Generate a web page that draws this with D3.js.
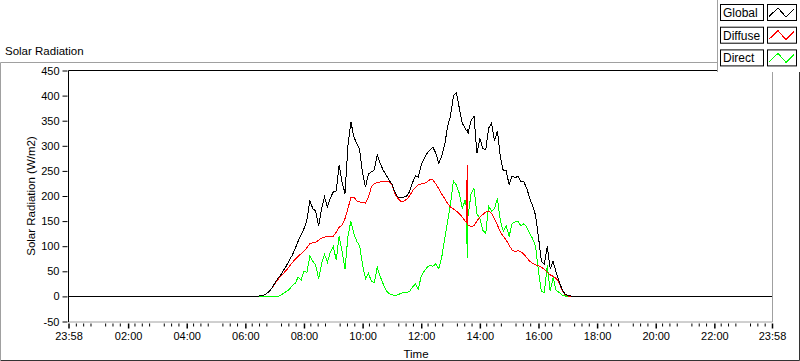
<!DOCTYPE html>
<html>
<head>
<meta charset="utf-8">
<script src="https://cdnjs.cloudflare.com/ajax/libs/d3/7.8.5/d3.min.js"></script>
<style>
  body { margin: 0; background: #fff; }
  svg { display: block; font-family: "Liberation Sans", Arial, sans-serif; }
</style>
</head>
<body>
<main></main>
<script>
// sample times (local time of day)
const times = [
  "06:00","06:06","06:12","06:18","06:24","06:30","06:36","06:42","06:48","06:54",
  "07:00","07:06","07:12","07:18","07:24","07:30","07:36","07:42","07:48","07:54",
  "08:00","08:06","08:12","08:18","08:24","08:30","08:36","08:42","08:48","08:54",
  "09:00","09:06","09:12","09:18","09:24","09:30","09:36","09:42","09:48","09:54",
  "10:00","10:06","10:12","10:18","10:24","10:30","10:36","10:42","10:48","10:54",
  "11:00","11:06","11:12","11:18","11:24","11:30","11:36","11:42","11:48","11:54",
  "12:00","12:06","12:12","12:18","12:24","12:30","12:36","12:42","12:48","12:54",
  "13:00","13:06","13:12","13:18","13:24","13:30","13:33","13:34","13:35","13:36",
  "13:42","13:48","13:54","14:00","14:06","14:12","14:18","14:24","14:30","14:36",
  "14:42","14:48","14:54","15:00","15:06","15:12","15:18","15:24","15:30","15:36",
  "15:42","15:48","15:54","16:00","16:06","16:12","16:18","16:24","16:30","16:36",
  "16:42","16:48","16:54","17:00","17:06","17:12","17:18","17:24"
];

const globalRad = [
  0, 0, 0, 0, 0, 1, 2, 5, 9, 16,
  26, 35, 42, 52, 61, 72, 82, 95, 110, 122,
  135, 152, 190, 175, 170, 140, 175, 198, 178, 196,
  208, 210, 262, 228, 205, 300, 348, 318, 305, 292,
  245, 218, 244, 248, 252, 282, 265, 252, 242, 232,
  224, 208, 198, 196, 198, 200, 208, 226, 240, 238,
  262, 274, 285, 292, 297, 285, 265, 280, 302, 338,
  360, 400, 405, 375, 345, 335, 330, 332, 328, 325,
  350, 359, 285, 315, 295, 292, 335, 345, 310, 330,
  278, 250, 250, 222, 240, 236, 240, 228, 228, 215,
  196, 180, 162, 118, 70, 64, 100, 55, 70, 48,
  30, 15, 5, 2, 1, 0, 0, 0
];

const diffuseRad = [
  0, 0, 0, 0, 0, 1, 2, 5, 9, 16,
  25, 33, 40, 46, 52, 60, 67, 74, 80, 85,
  90, 97, 105, 107, 108, 112, 116, 118, 119, 120,
  120, 128, 138, 142, 155, 175, 197, 198, 190, 188,
  187, 186, 198, 218, 225, 227, 228, 229, 230, 228,
  222, 205, 195, 190, 190, 193, 200, 210, 217, 222,
  224, 225, 228, 233, 232, 224, 214, 204, 195, 185,
  178, 174, 170, 165, 158, 150, 147, 262, 146, 142,
  139, 141, 150, 158, 163, 168, 170, 165, 155, 142,
  128, 120, 112, 102, 92, 89, 91, 89, 84, 77,
  70, 66, 63, 61, 58, 54, 48, 43, 40, 36,
  28, 13, 4, 1, 0, 0, 0, 0
];

const directRad = [
  0, 0, 0, 0, 0, 0, 0, 0, 0, 0,
  0, 0, 2, 6, 10, 14, 22, 26, 38, 32,
  50, 48, 80, 70, 62, 35, 65, 84, 68, 88,
  100, 72, 120, 90, 55, 120, 150, 125, 110, 100,
  62, 35, 46, 30, 28, 58, 40, 25, 12, 6,
  3, 2, 3, 6, 8, 8, 10, 18, 25, 15,
  40, 50, 58, 62, 60, 65, 55, 78, 115, 150,
  185, 230, 222, 205, 175, 192, 175, 76, 170, 160,
  205, 215, 165, 155, 132, 125, 180, 170, 175, 195,
  150, 130, 140, 120, 145, 148, 150, 140, 145, 138,
  125, 115, 100, 50, 10, 8, 62, 10, 38, 12,
  8, 3, 1, 0, 0, 0, 0, 0
];

const yTicks = [-50, 0, 50, 100, 150, 200, 250, 300, 350, 400, 450];
const xTickLabels = ["23:58", "02:00", "04:00", "06:00", "08:00", "10:00", "12:00",
                     "14:00", "16:00", "18:00", "20:00", "22:00", "23:58"];
const seriesNames = ["Global", "Diffuse", "Direct"];
const seriesColors = ["#000000", "#ff0000", "#00ff00"];

const w = 800;
const h = 361;
const plot = { left: 68, right: 772, top: 70.5, bottom: 321.5 };

const parseTime = d3.timeParse("%Y-%m-%d %H:%M");
const day = t => parseTime("2000-01-02 " + t);
const tStart = parseTime("2000-01-01 23:58");
const tEnd = day("23:58");

const xScale = d3.scaleTime()
  .domain([tStart, tEnd])
  .range([plot.left + 0.5, plot.right]);

const yScale = d3.scaleLinear()
  .domain([-50, 450])
  .range([plot.bottom, plot.top]);

const svg = d3.select('main').append('svg')
  .attr('width', w)
  .attr('height', h);

svg.append('rect')
  .attr('width', w).attr('height', h)
  .attr('fill', '#fff');

// title
svg.append('text')
  .attr('x', 5).attr('y', 55)
  .attr('font-size', '11.5px')
  .text('Solar Radiation');

// outer panel frame
svg.append('path')
  .attr('d', `M0.5,360 V62.5 H799`)
  .attr('fill', 'none').attr('stroke', '#a0a0a0');
svg.append('path')
  .attr('d', `M0.5,360.5 H799.5 V62`)
  .attr('fill', 'none').attr('stroke', '#333');

// plot frame
svg.append('path')
  .attr('d', `M${plot.right + 0.5},${plot.top} V${plot.bottom + 0.5} H${plot.left}`)
  .attr('fill', 'none').attr('stroke', '#a0a0a0');
svg.append('path')
  .attr('d', `M${plot.left + 0.5},${plot.bottom + 0.5} V${plot.top} H${plot.right + 1}`)
  .attr('fill', 'none').attr('stroke', '#000');

// y axis
const yAxis = d3.axisLeft(yScale)
  .tickValues(yTicks)
  .tickSize(5)
  .tickPadding(3)
  .tickFormat(d => String(d));

const yG = svg.append('g')
  .attr('transform', `translate(${plot.left - 0.5},0)`)
  .call(yAxis);
yG.select('.domain').remove();
yG.selectAll('line').attr('stroke', '#000');
yG.selectAll('text').attr('font-size', '11px').attr('font-family', null).attr('fill', '#000');

svg.append('text')
  .attr('transform', `translate(35,196) rotate(-90)`)
  .attr('text-anchor', 'middle')
  .attr('font-size', '11.5px')
  .text('Solar Radiation (W/m2)');

// x axis: minor ticks every 15 minutes from the start
const minorTicks = d3.range(1, 96)
  .map(i => d3.timeMinute.offset(tStart, 15 * i))
  .filter(d => d.getMinutes() !== 58);

const minorAxis = d3.axisBottom(xScale)
  .tickValues(minorTicks)
  .tickSize(3)
  .tickFormat('');

const minorG = svg.append('g')
  .attr('transform', `translate(0,${plot.bottom + 2})`)
  .call(minorAxis);
minorG.select('.domain').remove();
minorG.selectAll('line').attr('stroke', '#000');

const majorTicks = xTickLabels.map((t, i) => i === 0 ? tStart : day(t));
const xAxis = d3.axisBottom(xScale)
  .tickValues(majorTicks)
  .tickSize(5)
  .tickPadding(4)
  .tickFormat((d, i) => xTickLabels[i]);

const xG = svg.append('g')
  .attr('transform', `translate(0,${plot.bottom + 2})`)
  .call(xAxis);
xG.select('.domain').remove();
xG.selectAll('line').attr('stroke', '#000').attr('stroke-width', 1.5);
xG.selectAll('text').attr('font-size', '11px').attr('font-family', null).attr('fill', '#000');

svg.append('text')
  .attr('x', 416).attr('y', 358)
  .attr('text-anchor', 'middle')
  .attr('font-size', '11.5px')
  .text('Time');

// series
const series = [globalRad, diffuseRad, directRad].map((vals, k) => ({
  name: seriesNames[k],
  color: seriesColors[k],
  points: [{ t: tStart, v: 0 }]
    .concat(times.map((t, i) => ({ t: day(t), v: vals[i] })))
    .concat([{ t: tEnd, v: 0 }])
}));

const line = d3.line()
  .x(d => xScale(d.t))
  .y(d => yScale(d.v));

svg.append('g')
  .selectAll('path')
  .data(series.slice().reverse())
  .enter()
  .append('path')
  .attr('d', d => line(d.points))
  .attr('fill', 'none')
  .attr('stroke', d => d.color)
  .attr('stroke-width', 1)
  .attr('shape-rendering', 'crispEdges');

// legend
const legend = svg.append('g');
legend.append('rect')
  .attr('x', 717).attr('y', 0)
  .attr('width', 83).attr('height', 72)
  .attr('fill', '#fff');
legend.append('line')
  .attr('x1', 717.5).attr('x2', 717.5)
  .attr('y1', 0).attr('y2', 72)
  .attr('stroke', '#a0a0a0');

const rows = legend.selectAll('.row')
  .data(series)
  .enter()
  .append('g')
  .attr('class', 'row')
  .attr('transform', (d, i) => `translate(0,${4.5 + i * 22.7})`);

rows.append('rect')
  .attr('x', 720.5).attr('y', 0)
  .attr('width', 43).attr('height', 16)
  .attr('fill', '#fff').attr('stroke', '#000');

rows.append('text')
  .attr('x', 723).attr('y', 12.5)
  .attr('font-size', '12px')
  .text(d => d.name);

rows.append('rect')
  .attr('x', 767.5).attr('y', 0)
  .attr('width', 29).attr('height', 16)
  .attr('fill', '#fff').attr('stroke', '#000');

rows.append('path')
  .attr('d', 'M769,12 L778,3.5 L786,12.5 L794,4.5')
  .attr('fill', 'none')
  .attr('stroke', d => d.color)
  .attr('shape-rendering', 'crispEdges');
</script>
</body>
</html>
